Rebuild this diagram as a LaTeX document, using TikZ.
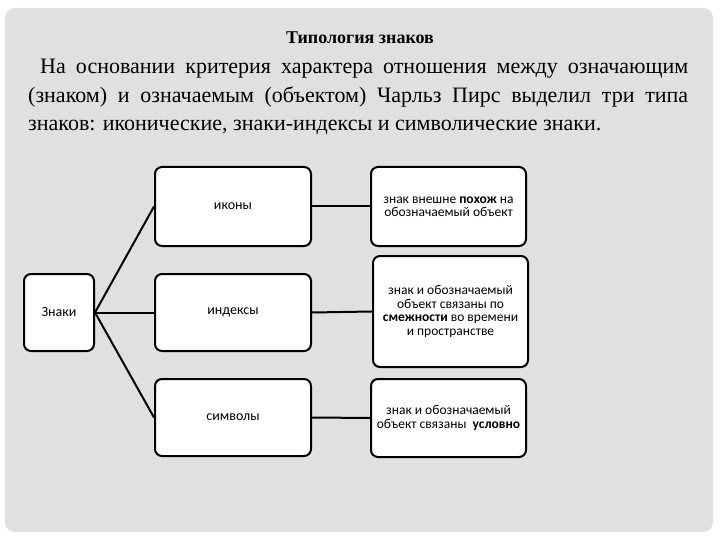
\documentclass[tikz,border=0pt]{standalone}
\usepackage{fontspec}
\setmainfont{Liberation Serif}
\newfontfamily\diag{Carlito}
\begin{document}
\begin{tikzpicture}[x=1pt,y=-1pt,
  box/.style={draw=black,line width=2pt,fill=white,rounded corners=7pt,inner sep=2pt,
    font=\diag\fontsize{14}{14}\selectfont},
  rbox/.style={box,align=center,font=\diag\fontsize{13.5}{13.5}\selectfont},
  link/.style={draw=black,line width=2pt}]
\useasboundingbox (0,0) rectangle (720,540);
\fill[white] (0,0) rectangle (720,540);
\fill[black!12,rounded corners=10pt] (5,8) rectangle (713,532);
\node[font=\fontsize{18}{18}\selectfont\bfseries] (title) at (360,38) {Типология знаков};
\node[anchor=north west,text width=660pt,align=justify,inner sep=0pt,
  font=\fontsize{22}{28.5}\selectfont] (para) at (28,59)
  {\hspace*{12pt}На основании критерия характера отношения между означающим\linebreak
  (знаком) и означаемым (объектом) Чарльз Пирс выделил три типа\linebreak
  знаков: иконические, знаки-индексы и символические знаки.\par};
\node[box,minimum width=70pt,minimum height=77pt] (z) at (59,312.5) {Знаки};
\node[box,minimum width=156pt,minimum height=79pt] (ik) at (233,206.5) {иконы};
\node[box,minimum width=156pt,minimum height=77pt] (in) at (233,312.5) {индексы};
\node[box,minimum width=156pt,minimum height=77pt] (si) at (233,417.5) {символы};
\node[rbox,minimum width=155pt,minimum height=79pt] (r1) at (448.5,206.5)
  {знак внешне \textbf{похож} на\\обозначаемый объект};
\node[rbox,minimum width=155pt,minimum height=111pt] (r2) at (450.5,311.5)
  {знак и обозначаемый\\объект связаны по\\\textbf{смежности} во времени\\и пространстве};
\node[rbox,minimum width=155pt,minimum height=78pt] (r3) at (448.5,418)
  {знак и обозначаемый\\объект связаны \ \textbf{условно}};
\draw[link] (z.east) -- (ik.west);
\draw[link] (z.east) -- (in.west);
\draw[link] (z.east) -- (si.west);
\draw[link] (ik.east) -- (r1.west);
\draw[link] (in.east) -- (r2.west);
\draw[link] (si.east) -- (r3.west);
\end{tikzpicture}
\end{document}
